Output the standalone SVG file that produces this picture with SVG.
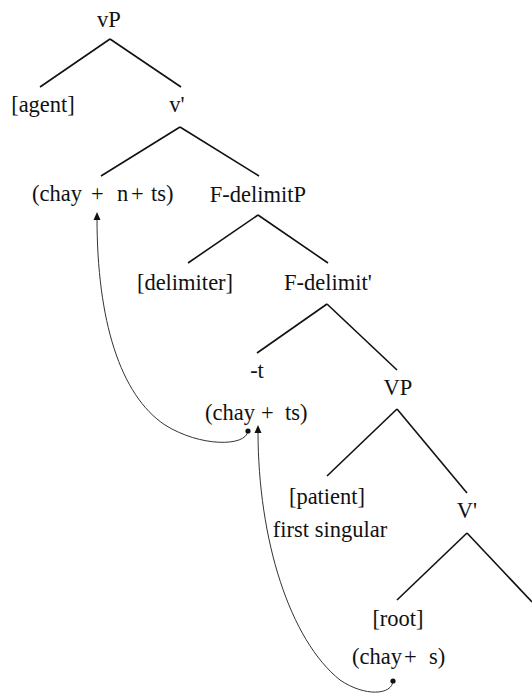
<svg xmlns="http://www.w3.org/2000/svg" width="532" height="698" viewBox="0 0 532 698">
<defs>
<style>
text{font-family:'Liberation Serif','DejaVu Serif',serif;font-size:22.5px;fill:#111;}
.m{text-anchor:middle;}
.e{stroke:#111;stroke-width:1.6;fill:none;}
.c{stroke:#333;stroke-width:1;fill:none;}
</style>
</defs>
<rect width="532" height="698" fill="#fff"/>
<g id="connectors">
<line class="e" x1="110" y1="39" x2="40" y2="87"/>
<line class="e" x1="110" y1="39" x2="181" y2="87"/>
<line class="e" x1="180" y1="127" x2="101" y2="176"/>
<line class="e" x1="180" y1="127" x2="259" y2="176"/>
<line class="e" x1="258" y1="215" x2="188" y2="263"/>
<line class="e" x1="258" y1="215" x2="328" y2="263"/>
<line class="e" x1="327" y1="304" x2="257" y2="353"/>
<line class="e" x1="327" y1="304" x2="397" y2="370"/>
<line class="e" x1="397" y1="409" x2="327" y2="476"/>
<line class="e" x1="397" y1="409" x2="467" y2="493"/>
<line class="e" x1="467" y1="533" x2="397" y2="600"/>
<line class="e" x1="467" y1="533" x2="532" y2="602"/>
<path class="c" d="M248,431 C246,447 200,447 165,425 C120,395 97,320 97,218"/>
<path d="M97,212 L93.5,220 L100.5,220 Z" fill="#111"/>
<circle cx="248" cy="431" r="2.6" fill="#111"/>
<path class="c" d="M393,681 C392,695 365,697 340,680 C290,640 258,540 258,431"/>
<path d="M258,425 L254.5,433 L261.5,433 Z" fill="#111"/>
<circle cx="393" cy="681" r="2.6" fill="#111"/>
</g>
<g id="vP"><text class="m" x="109" y="27">vP</text></g>
<g id="agent"><text class="m" x="43" y="112">[agent]</text></g>
<g id="vbar"><text class="m" x="177" y="112">v'</text></g>
<g id="chay-n-ts"><text y="201"><tspan x="32">(chay</tspan><tspan x="91">+</tspan><tspan x="117">n</tspan><tspan x="131">+</tspan><tspan x="151">ts)</tspan></text></g>
<g id="FdelimitP"><text class="m" x="258" y="202">F-delimitP</text></g>
<g id="delimiter"><text class="m" x="185" y="290">[delimiter]</text></g>
<g id="Fdelimitbar"><text class="m" x="328" y="290">F-delimit'</text></g>
<g id="t"><text class="m" x="257" y="378">-t</text><text y="420"><tspan x="205">(chay</tspan><tspan x="261">+</tspan><tspan x="285">ts)</tspan></text></g>
<g id="VP"><text class="m" x="398" y="395">VP</text></g>
<g id="patient"><text class="m" x="327" y="504">[patient]</text><text class="m" x="330" y="537">first singular</text></g>
<g id="Vbar"><text class="m" x="467" y="518">V'</text></g>
<g id="root"><text class="m" x="398" y="626">[root]</text><text y="664"><tspan x="352">(chay</tspan><tspan x="404">+</tspan><tspan x="429">s)</tspan></text></g>
</svg>
